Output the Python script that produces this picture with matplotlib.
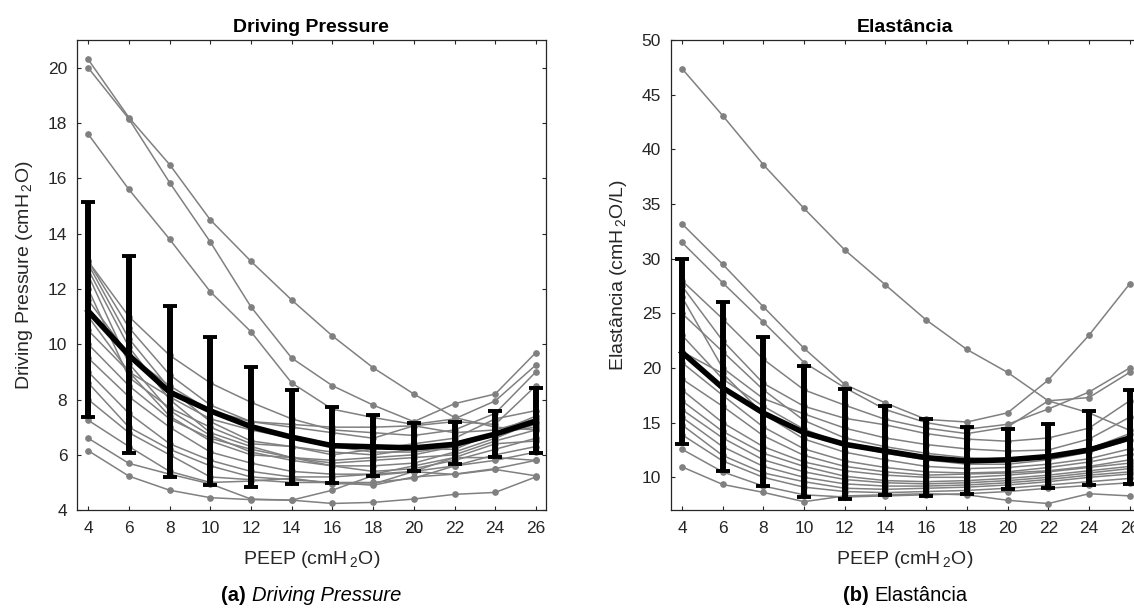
import matplotlib
matplotlib.use("Agg")
import matplotlib.pyplot as plt
import numpy as np

plt.rcParams['font.family'] = ['Liberation Sans', 'DejaVu Sans']
plt.rcParams['mathtext.fontset'] = 'custom'
plt.rcParams['mathtext.rm'] = 'Liberation Sans'
plt.rcParams['mathtext.it'] = 'Liberation Sans:italic'

peep = [4, 6, 8, 10, 12, 14, 16, 18, 20, 22, 24, 26]

# driving pressure, one row per patient (cmH2O)
dp_patients = [
    [20.3, 18.2, 16.5, 14.5, 13.0, 11.6, 10.3, 9.15, 8.2, 7.35, 7.0, 6.9],
    [20.0, 18.15, 15.85, 13.7, 11.35, 9.5, 8.5, 7.8, 7.2, 7.85, 8.2, 9.7],
    [17.6, 15.6, 13.8, 11.9, 10.45, 8.6, 7.65, 7.35, 7.1, 7.3, 7.95, 9.25],
    [13.0, 11.0, 9.6, 8.6, 7.9, 7.3, 6.9, 6.8, 6.7, 6.9, 7.5, 9.0],
    [13.0, 10.6, 8.9, 7.8, 7.2, 7.0, 6.8, 6.6, 7.05, 7.2, 7.1, 8.5],
    [12.9, 10.2, 8.4, 7.2, 6.5, 6.3, 6.0, 6.2, 6.4, 6.6, 7.3, 7.6],
    [12.7, 9.9, 8.0, 6.8, 6.3, 5.9, 5.8, 5.9, 6.0, 6.3, 6.8, 7.4],
    [12.5, 9.3, 7.6, 6.7, 6.1, 5.8, 5.6, 5.6, 5.7, 6.1, 6.6, 7.2],
    [12.0, 8.8, 7.7, 7.0, 6.4, 6.3, 6.1, 6.0, 6.2, 6.2, 6.8, 7.0],
    [11.6, 9.6, 8.5, 7.6, 7.2, 7.1, 7.0, 7.0, 7.05, 6.8, 6.9, 7.3],
    [11.0, 9.0, 7.4, 6.5, 6.0, 5.9, 5.7, 5.8, 5.9, 6.0, 6.5, 6.9],
    [10.5, 9.0, 8.1, 7.3, 6.9, 6.6, 6.3, 6.1, 6.1, 6.3, 6.7, 7.1],
    [10.0, 8.5, 7.3, 6.6, 6.2, 5.9, 5.6, 5.4, 5.5, 5.8, 6.2, 6.6],
    [9.5, 8.1, 7.0, 6.1, 5.7, 5.4, 5.3, 5.3, 5.4, 5.6, 6.0, 6.3],
    [9.0, 7.5, 6.4, 5.8, 5.4, 5.2, 5.2, 5.3, 5.6, 5.9, 5.9, 5.8],
    [8.6, 7.0, 6.2, 5.6, 5.2, 5.1, 5.0, 4.9, 5.2, 5.3, 5.5, 5.8],
    [8.0, 6.8, 6.0, 5.2, 5.1, 5.0, 5.0, 5.0, 5.15, 5.6, 5.8, 6.1],
    [7.25, 6.3, 5.4, 5.0, 5.05, 5.15, 4.96, 4.94, 5.4, 5.9, 6.4, 6.5],
    [6.6, 5.69, 5.3, 4.95, 4.4, 4.36, 4.72, 5.25, 5.39, 5.29, 5.47, 5.24],
    [6.15, 5.23, 4.72, 4.45, 4.38, 4.36, 4.24, 4.28, 4.4, 4.57, 4.64, 5.2],
]
dp_mean = [11.2, 9.6, 8.27, 7.59, 7.02, 6.64, 6.33, 6.29, 6.25, 6.38, 6.75, 7.22]
dp_low = [7.38, 6.05, 5.18, 4.9, 4.82, 4.94, 4.98, 5.25, 5.42, 5.68, 5.93, 6.08]
dp_high = [15.15, 13.2, 11.37, 10.26, 9.16, 8.34, 7.72, 7.45, 7.15, 7.2, 7.57, 8.42]

# elastance, one row per patient (cmH2O/L)
el_patients = [
    [47.4, 43.1, 38.6, 34.6, 30.8, 27.6, 24.4, 21.7, 19.6, 17.0, 15.9, 14.3],
    [33.2, 29.5, 25.6, 21.8, 18.5, 16.8, 15.3, 15.06, 15.9, 18.9, 23.0, 27.7],
    [31.5, 27.8, 24.2, 20.5, 18.2, 16.2, 15.0, 14.4, 14.85, 16.25, 17.8, 20.0],
    [28.0, 24.5, 20.8, 18.0, 16.6, 15.3, 14.5, 14.0, 14.6, 17.0, 17.3, 19.6],
    [27.5, 22.5, 18.6, 16.5, 15.4, 14.8, 14.0, 13.5, 13.3, 13.6, 14.5, 17.0],
    [26.5, 20.0, 17.2, 15.8, 14.5, 13.6, 13.0, 12.6, 12.4, 12.5, 13.5, 15.5],
    [25.0, 21.5, 18.0, 15.2, 13.6, 12.8, 12.2, 11.8, 11.6, 11.8, 12.6, 14.0],
    [23.0, 19.0, 16.5, 14.4, 13.0, 12.2, 11.6, 11.2, 11.2, 11.6, 12.3, 13.4],
    [21.5, 19.5, 15.8, 13.5, 12.3, 11.6, 11.0, 10.8, 10.9, 11.2, 11.7, 12.6],
    [20.5, 17.5, 14.6, 12.6, 11.5, 10.9, 10.5, 10.4, 10.5, 10.9, 11.4, 12.1],
    [19.0, 16.5, 13.8, 12.0, 11.0, 10.5, 10.2, 10.3, 10.4, 10.6, 11.0, 11.6],
    [18.0, 15.0, 12.8, 11.4, 10.6, 10.2, 10.0, 10.0, 10.2, 10.5, 10.9, 11.3],
    [17.0, 14.2, 12.2, 11.0, 10.1, 9.7, 9.6, 9.7, 9.9, 10.2, 10.6, 11.0],
    [16.2, 13.6, 11.6, 10.5, 9.8, 9.5, 9.4, 9.5, 9.7, 10.0, 10.4, 10.8],
    [15.5, 12.8, 11.0, 10.0, 9.4, 9.2, 9.2, 9.3, 9.5, 9.8, 10.2, 10.5],
    [14.8, 12.0, 10.4, 9.6, 9.0, 8.9, 9.0, 9.1, 9.3, 9.6, 10.0, 10.3],
    [13.9, 11.5, 10.0, 9.1, 8.7, 8.6, 8.7, 8.8, 9.0, 9.3, 9.6, 9.9],
    [12.57, 10.5, 9.2, 8.4, 8.2, 8.3, 8.4, 8.5, 8.7, 9.0, 9.26, 9.5],
    [10.96, 9.35, 8.62, 7.77, 8.3, 8.4, 8.5, 8.4, 7.9, 7.6, 8.5, 8.3],
]
el_mean = [21.44, 18.19, 15.88, 14.09, 13.02, 12.4, 11.8, 11.5, 11.6, 11.9, 12.5, 13.6]
el_low = [13.09, 10.56, 9.19, 8.16, 7.98, 8.37, 8.3, 8.5, 8.9, 9.05, 9.26, 9.4]
el_high = [29.93, 26.0, 22.8, 20.2, 18.1, 16.52, 15.3, 14.6, 14.45, 14.85, 16.1, 18.0]

gray = '#808080'
axcol = '#262626'

fig = plt.figure(figsize=(11.34, 6.08), dpi=100)
ax1 = fig.add_axes([0.0679, 0.161, 0.4133, 0.773])
ax2 = fig.add_axes([0.5915, 0.161, 0.4133, 0.773])


def panel(ax, patients, mean, low, high, ylim, yticks, title, ylabel):
    for p in patients:
        ax.plot(peep, p, color=gray, lw=1.1, marker='o', ms=3.8, mec=gray, mfc=gray)
    m = np.array(mean)
    yerr = [m - np.array(low), np.array(high) - m]
    ax.errorbar(peep, m, yerr=yerr, color='black', lw=4, elinewidth=4.3,
                capsize=5, capthick=2.8, zorder=5)
    ax.set_xlim(3.45, 26.48)
    ax.set_ylim(*ylim)
    ax.set_xticks(peep)
    ax.set_yticks(yticks)
    ax.tick_params(direction='in', top=True, right=True, length=3, width=0.8,
                   colors=axcol, labelsize=12.5, labelcolor=axcol)
    ax.tick_params(axis='x', pad=8)
    ax.tick_params(axis='y', pad=7)
    for s in ax.spines.values():
        s.set_color(axcol)
        s.set_linewidth(0.9)
    ax.set_title(title, fontsize=14, fontweight='bold', pad=6)
    ax.set_xlabel(r'PEEP (cmH$\,_2$O)', fontsize=14, color=axcol, labelpad=9)
    ax.set_ylabel(r'%s (cmH$\,_2$O%s)' % ylabel, fontsize=14, color=axcol,
                  labelpad=9)


panel(ax1, dp_patients, dp_mean, dp_low, dp_high, (4, 21), range(4, 21, 2),
      'Driving Pressure', ('Driving Pressure', ''))
panel(ax2, el_patients, el_mean, el_low, el_high, (7, 50), range(10, 51, 5),
      'Elastância', ('Elastância', '/L'))


def caption(xc, bold, rest, style):
    fig.canvas.draw()
    r = fig.canvas.get_renderer()
    t1 = fig.text(0, 0.012, bold, fontsize=14.5, fontweight='bold')
    t2 = fig.text(0, 0.012, rest, fontsize=14.5, style=style)
    w1 = t1.get_window_extent(r).width
    w2 = t2.get_window_extent(r).width
    x0 = xc - (w1 + w2) / 2
    t1.set_x(x0 / 1134)
    t2.set_x((x0 + w1) / 1134)


caption(311, '(a) ', 'Driving Pressure', 'italic')
caption(905, '(b) ', 'Elastância', 'normal')

fig.savefig('out.png', dpi=100)
